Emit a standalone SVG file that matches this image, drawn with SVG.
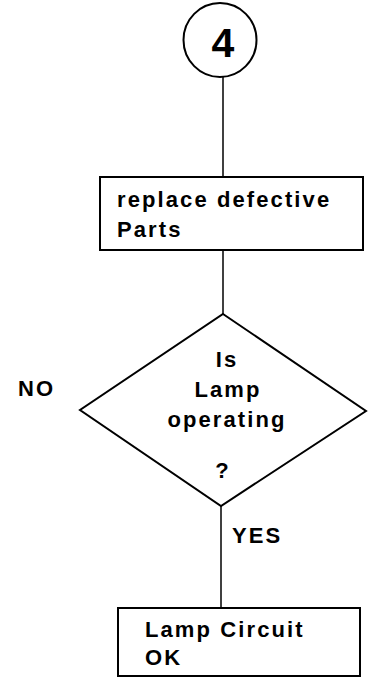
<svg xmlns="http://www.w3.org/2000/svg" width="368" height="681" viewBox="0 0 368 681">
<style>
.s{fill:none;stroke:#000;stroke-width:2}
.c{stroke:#000;stroke-width:1.5;fill:none}
.t{font-family:"Liberation Sans",Arial,sans-serif;font-weight:bold;font-size:22px;letter-spacing:2.1px;fill:#000}
.m{text-anchor:middle}
</style>
<rect width="368" height="681" fill="#fff"/>
<g id="connectors">
<line class="c" x1="223" y1="77" x2="223" y2="177"/>
<line class="c" x1="223" y1="250" x2="223" y2="314"/>
<line class="c" x1="221" y1="506" x2="221" y2="608"/>
</g>
<g id="start4">
<ellipse class="s" cx="220" cy="40" rx="36.5" ry="37"/>
<text x="223" y="57" class="m" style="font-family:'Liberation Sans',Arial,sans-serif;font-weight:bold;font-size:41px">4</text>
</g>
<g id="replace">
<rect class="s" x="100" y="177" width="263" height="73"/>
<text class="t" x="117" y="207">replace defective</text>
<text class="t" x="117" y="237">Parts</text>
</g>
<g id="decision">
<polygon class="s" points="223,314 366,411 221,506 80,410"/>
<text class="t m" x="227" y="367">Is</text>
<text class="t m" x="228" y="397">Lamp</text>
<text class="t m" x="227" y="427">operating</text>
<text class="t m" x="223" y="478">?</text>
</g>
<g id="labels">
<text class="t" x="18" y="396">NO</text>
<text class="t" x="232" y="543">YES</text>
</g>
<g id="ok">
<rect class="s" x="118" y="608" width="242" height="68"/>
<text class="t" x="145" y="637">Lamp Circuit</text>
<text class="t" x="145" y="665">OK</text>
</g>
</svg>
